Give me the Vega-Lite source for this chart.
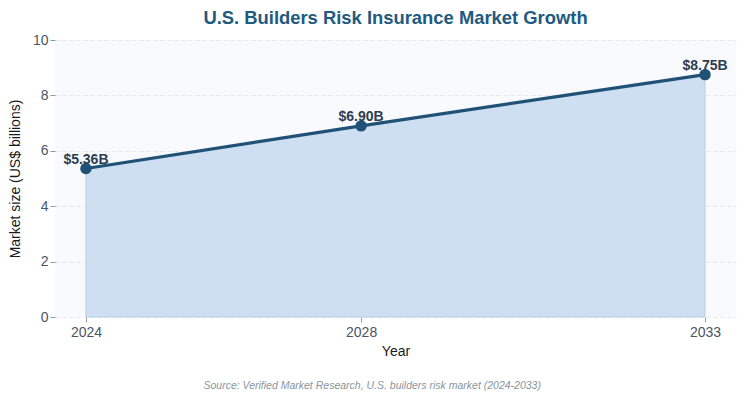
{
  "$schema": "https://vega.github.io/schema/vega-lite/v6.json",
  "background": "white",
  "padding": {"left": 8, "top": 8, "right": 6, "bottom": 5},
  "title": {"text": "Source: Verified Market Research, U.S. builders risk market (2024-2033)", "orient": "bottom", "font": "Liberation Sans", "fontSize": 10.5, "fontStyle": "italic", "fontWeight": "normal", "color": "#8a959e", "anchor": "middle", "offset": 23},
  "config": {
    "view": {"fill": "#f8fafd", "stroke": null},
    "font": "Liberation Sans",
    "axis": {"labelFont": "Liberation Sans", "titleFont": "Liberation Sans", "labelFontSize": 14, "titleFontSize": 14, "labelColor": "#4a5568", "titleColor": "#1a1a1a", "titleFontWeight": "normal", "tickColor": "#999999", "domain": false}
  },
  "vconcat": [
    {
      "width": 681,
      "height": 277,
      "title": {"text": "U.S. Builders Risk Insurance Market Growth", "font": "Liberation Sans", "fontSize": 18.4, "fontWeight": "bold", "color": "#215a80", "anchor": "middle", "offset": 6},
      "data": {"values": [
        {"year": 2024, "size": 5.36, "label": "$5.36B"},
        {"year": 2028, "size": 6.90, "label": "$6.90B"},
        {"year": 2033, "size": 8.75, "label": "$8.75B"}
      ]},
      "encoding": {
        "x": {"field": "year", "type": "quantitative", "scale": {"domain": [2023.55, 2033.45], "nice": false, "zero": false},
              "axis": {"values": [2024, 2028, 2033], "format": "d", "grid": false, "title": "Year", "titlePadding": 5, "labelPadding": 3}},
        "y": {"field": "size", "type": "quantitative", "scale": {"domain": [0, 10], "nice": false},
              "axis": {"values": [0, 2, 4, 6, 8, 10], "grid": true, "gridDash": [4, 3], "gridColor": "#e3e8ef", "title": "Market size (US$ billions)", "titlePadding": 10}}
      },
      "layer": [
        {"mark": {"type": "area", "color": "#cddff0", "opacity": 1, "stroke": "#b8d0ea", "strokeWidth": 1}, "encoding": {"y2": {"datum": 0}}},
        {"mark": {"type": "line", "color": "#1f5276", "strokeWidth": 3.2}, "encoding": {}},
        {"mark": {"type": "point", "filled": true, "color": "#1f5276", "size": 130, "opacity": 1}, "encoding": {}},
        {"mark": {"type": "text", "font": "Liberation Sans", "fontSize": 14, "fontWeight": "bold", "color": "#2c3e50", "baseline": "alphabetic", "dy": -5}, "encoding": {"text": {"field": "label"}}}
      ]
    }
  ]
}
